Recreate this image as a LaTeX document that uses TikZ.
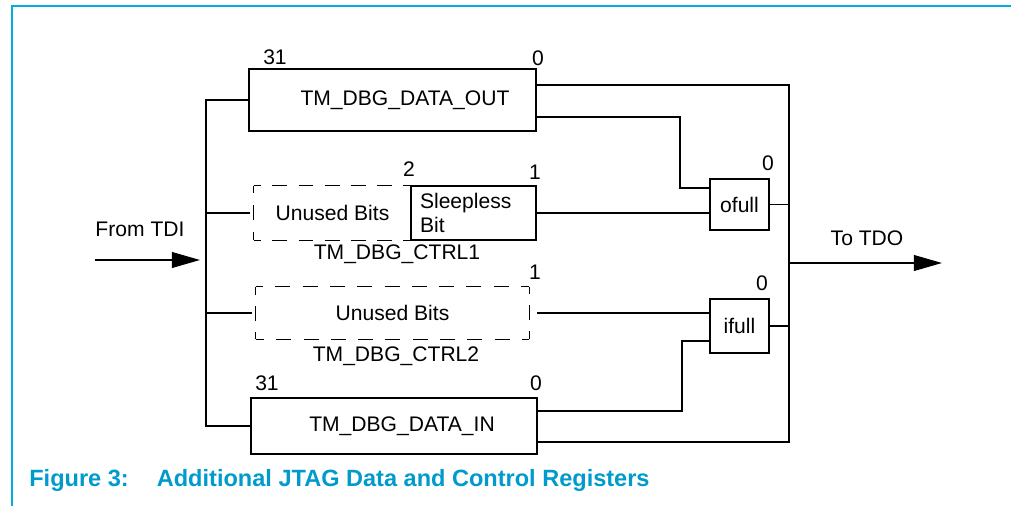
\documentclass[tikz,border=0pt]{standalone}
\usepackage{fontspec}
\setmainfont{Liberation Sans}
\usepackage{xcolor}
\usepackage{tikz}
\usetikzlibrary{positioning, arrows.meta}
\definecolor{FrameBlue}{RGB}{0,174,222}
\definecolor{CapBlue}{RGB}{0,155,204}

\begin{document}
\begin{tikzpicture}[x=0.02cm, y=-0.02cm,
          reg/.style={rectangle, draw, line width=0.8pt, inner sep=0pt,
                      font=\fontsize{12}{13.5}\selectfont},
          dreg/.style={rectangle, inner sep=0pt, font=\fontsize{12}{13.5}\selectfont},
          dside/.style={line width=0.8pt, dash pattern=on 8.5pt off #1, dash phase=4.25pt},
          flag/.style={reg, minimum width=1.18cm},
          lbl/.style={inner sep=0pt, font=\fontsize{12}{13.5}\selectfont},
          wire/.style={line width=0.8pt},
          arr/.style={-{Triangle[length=16pt, width=9pt]}, line width=0.8pt}
        ]
        \useasboundingbox (0,0) rectangle (1011,506);
        \draw[FrameBlue, line width=1pt] (12,506) -- (12,6) -- (1011,6);

        % registers
        \node[reg, minimum width=5.74cm, minimum height=1.24cm] (dout) at (392.5,100)
              {\hspace*{0.5cm}TM\_DBG\_DATA\_OUT};
        \node[dreg, minimum width=3.14cm, minimum height=1.08cm] (c1un) at (332.5,213)
              {Unused Bits};
        \node[reg, minimum width=2.5cm, minimum height=1.08cm, text width=2.14cm,
              align=left] (c1sl) at (473.5,213) {Sleepless\\Bit};
        \node[dreg, minimum width=5.46cm, minimum height=1.04cm] (c2un) at (392.5,313)
              {Unused Bits};
        \node[reg, minimum width=5.72cm, minimum height=1.12cm] (din) at (394,426)
              {\hspace*{0.32cm}TM\_DBG\_DATA\_IN};
        \node[flag, minimum height=1.02cm] (ofull) at (739.5,204.5) {ofull};
        \node[flag, minimum height=1.08cm] (ifull) at (739.5,326) {ifull};

        % dashed outlines of the unused bits
        \foreach \a/\b/\g in {north west/north east/6.39pt, north west/south west/6.86pt,
                              south west/south east/6.39pt}
          \draw[dside=\g] (c1un.\a) -- (c1un.\b);
        \foreach \a/\b/\g in {north west/north east/7.03pt, north east/south east/6.29pt,
                              south east/south west/7.03pt, south west/north west/6.29pt}
          \draw[dside=\g] (c2un.\a) -- (c2un.\b);

        % bit numbers and names
        \node[lbl] (doutmsb) at (275,57)  {31};
        \node[lbl] (doutlsb) at (538,58)  {0};
        \node[lbl] (c1hi)    at (409,169) {2};
        \node[lbl] (c1lo)    at (535,172) {1};
        \node[lbl] (c1name)  at (397,254) {TM\_DBG\_CTRL1};
        \node[lbl] (c2lo)    at (535,272) {1};
        \node[lbl] (c2name)  at (396,356) {TM\_DBG\_CTRL2};
        \node[lbl] (dinmsb)  at (267,383) {31};
        \node[lbl] (dinlsb)  at (536,383) {0};
        \node[lbl] (obit)    at (768,163) {0};
        \node[lbl] (ibit)    at (762,283) {0};
        \node[lbl] (fromtdi) at (140,229) {From TDI};
        \node[lbl] (totdo)   at (867,238) {To TDO};

        \coordinate (busL) at (206,260);
        \coordinate (busR) at (789,263);
        \coordinate (tdi)  at (95,260);
        \coordinate (tdo)  at (942,263);
        \coordinate (ojog) at (680,188);
        \coordinate (ijog) at (682,341);

        % input side
        \draw[arr, shorten >=0.12cm] (tdi) -- (busL);
        \draw[wire] (dout.west) -| (busL) |- (din.west);
        \draw[wire, shorten >=0.08cm] (busL |- c1un.west) -- (c1un.west);
        \draw[wire, shorten >=0.08cm] (busL |- c2un.west) -- (c2un.west);

        % output side
        \draw[wire] ([yshift=0.3cm]dout.east) -| (busR) |- ([yshift=-0.32cm]din.east);
        \draw[wire] ([yshift=-0.34cm]dout.east) -| (ojog) -- (ojog -| ofull.west);
        \draw[wire] (c1sl.east) -- (c1sl.east -| ofull.west);
        \draw[wire] (ofull.east) -- (ofull.east -| busR);
        \draw[wire, shorten <=0.16cm] (c2un.east) -- (c2un.east -| ifull.west);
        \draw[wire] ([yshift=0.3cm]din.east) -| (ijog) -- (ijog -| ifull.west);
        \draw[wire] (ifull.east) -- (ifull.east -| busR);
        \draw[arr] (busR) -- (tdo);

        \node[anchor=west, inner sep=0pt, text=CapBlue,
              font=\fontsize{13.4}{16}\selectfont\bfseries] (cap) at (29,480)
              {Figure 3:\hspace{16pt}Additional JTAG Data and Control Registers};
      \end{tikzpicture}
\end{document}
